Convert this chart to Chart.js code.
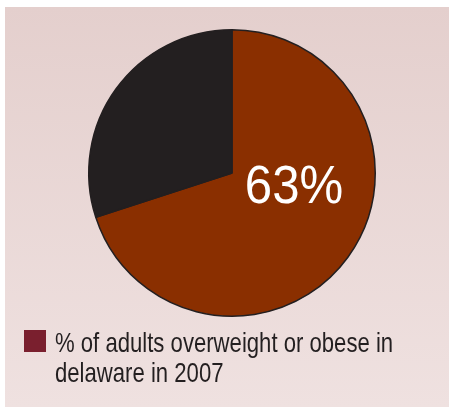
<!DOCTYPE html>
<html>
<head>
<meta charset="utf-8">
<script src="https://cdn.jsdelivr.net/npm/chart.js@4.4.1/dist/chart.umd.min.js"></script>
<style>
  html, body { margin: 0; padding: 0; background: #ffffff; }
  #panel {
    position: absolute; left: 5px; top: 7px; width: 444px; height: 400px;
    background: linear-gradient(to bottom, #e4cfcd 0%, #efe1e0 100%);
  }
  #pie { display: block; }
</style>
</head>
<body>
<div id="panel"><canvas id="pie" width="444" height="400"></canvas></div>
<script>
//
// Data
var slice_labels = ['% of adults overweight or obese in delaware in 2007', 'other'];
var slice_values = [70, 30];
var slice_colors = ['#8a2f00', '#231f20'];
var center_label = '63%';
var legend_color = '#7a1f2e';

//
// Big white label on the brown slice
var centerText = {
    id: 'centerText',
    afterDatasetsDraw: function(chart) {
        var ctx = chart.ctx;
        var arc = chart.getDatasetMeta(0).data[0];
        ctx.save();
        ctx.translate(arc.x + 62, arc.y + 15);
        ctx.scale(0.91, 1);
        ctx.fillStyle = '#ffffff';
        ctx.font = '54px "Liberation Sans", Arial, sans-serif';
        ctx.textAlign = 'center';
        ctx.textBaseline = 'middle';
        ctx.fillText(center_label, 0, 0);
        ctx.restore();
    }
};

//
// Legend under the pie, first slice only, wrapped on two lines
// (condensed look: regular font squeezed horizontally)
var bottomLegend = {
    id: 'bottomLegend',
    afterDraw: function(chart) {
        var ctx = chart.ctx;
        var squeeze = 0.79;
        ctx.save();
        ctx.fillStyle = legend_color;
        ctx.fillRect(19, 323, 22, 22);
        ctx.font = '28px "Liberation Sans", Arial, sans-serif';
        ctx.fillStyle = '#231f20';
        ctx.textBaseline = 'alphabetic';
        var words = slice_labels[0].split(' ');
        var lines = [], line = '';
        words.forEach(function(w) {
            var test = line ? line + ' ' + w : w;
            if (ctx.measureText(test).width * squeeze > 350 && line) {
                lines.push(line);
                line = w;
            } else {
                line = test;
            }
        });
        lines.push(line);
        lines.forEach(function(l, i) {
            ctx.save();
            ctx.translate(50, 344.5 + i * 30.5);
            ctx.scale(squeeze, 1);
            ctx.fillText(l, 0, 0);
            ctx.restore();
        });
        ctx.restore();
    }
};

new Chart(document.getElementById('pie').getContext('2d'), {
    type: 'pie',
    data: {
        labels: slice_labels,
        datasets: [{
            data: slice_values,
            backgroundColor: slice_colors,
            borderColor: '#231f20',
            borderWidth: 1.5
        }]
    },
    options: {
        responsive: false,
        animation: false,
        layout: {
            padding: { left: 83, right: 73, top: 22, bottom: 90 }
        },
        plugins: {
            legend: { display: false },
            tooltip: { enabled: false }
        }
    },
    plugins: [centerText, bottomLegend]
});
</script>
</body>
</html>
